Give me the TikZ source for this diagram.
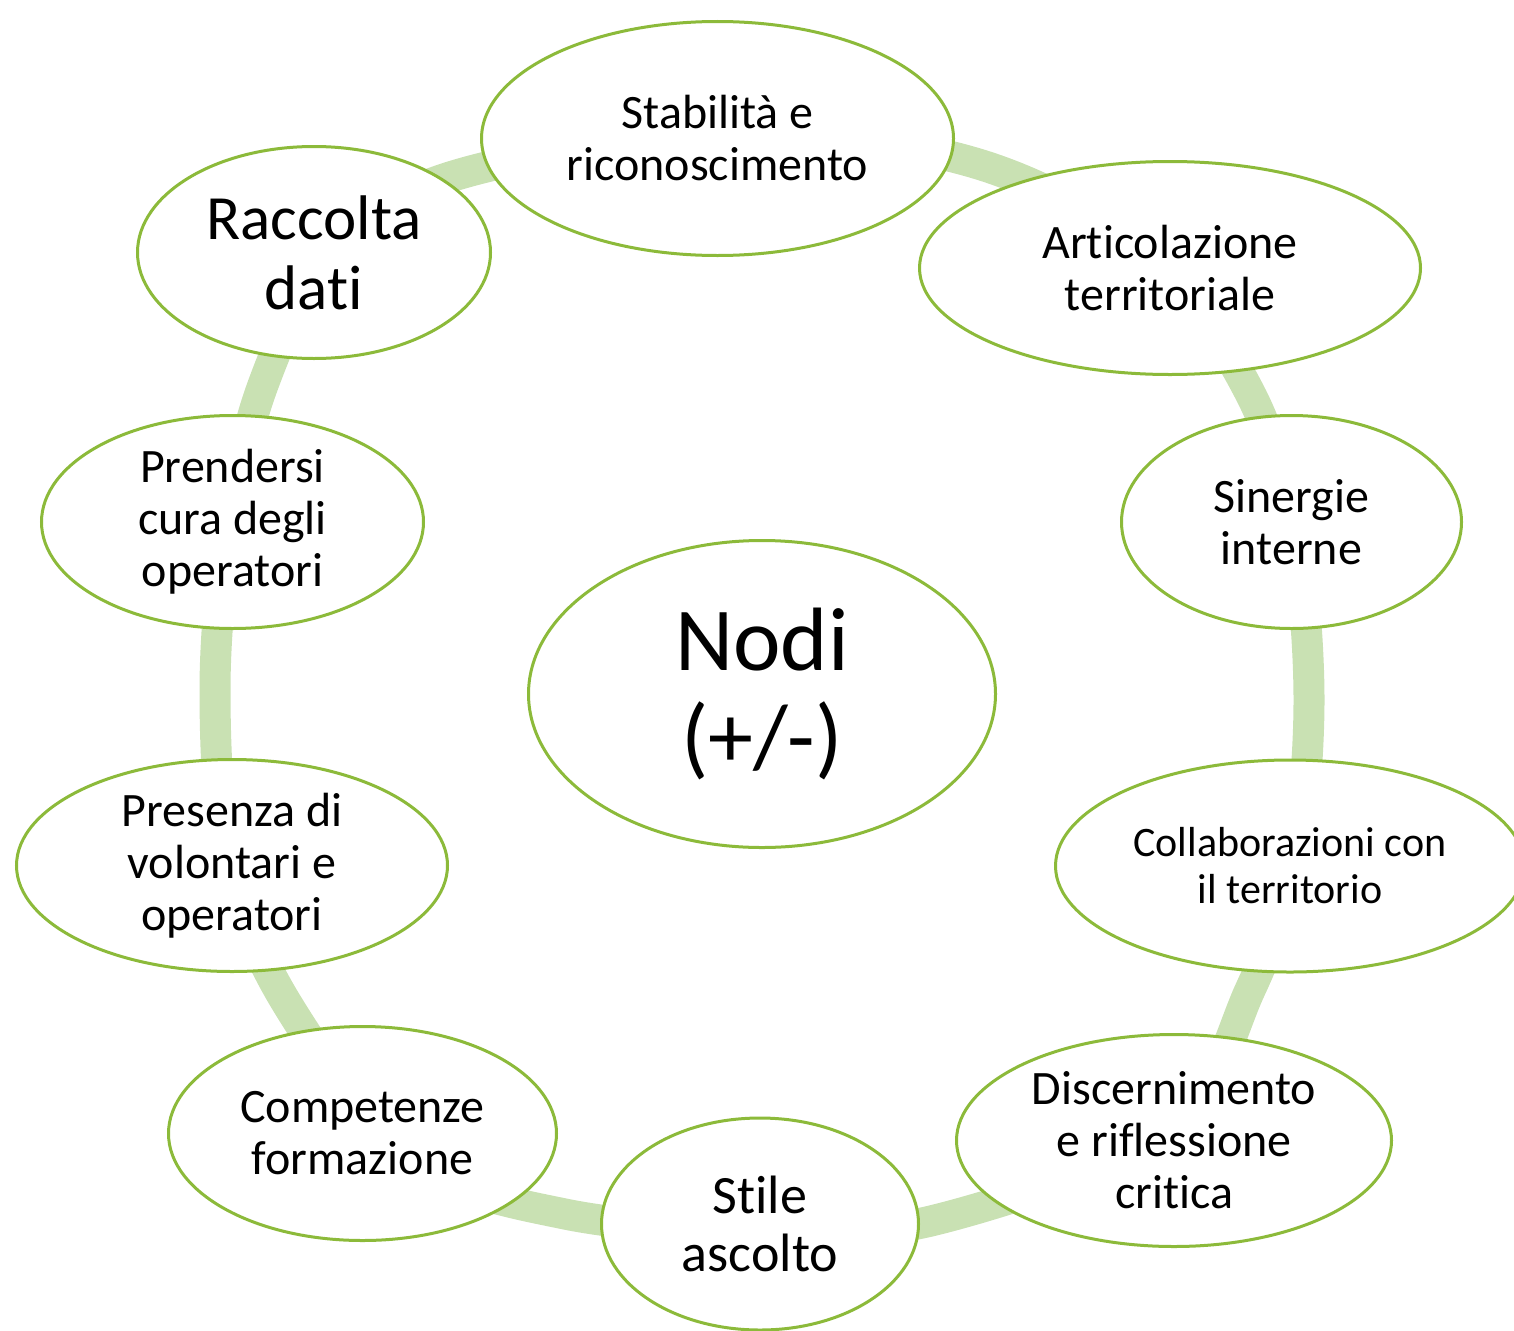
\documentclass[tikz,border=0pt]{standalone}
\usepackage{fontspec}
\setmainfont[Ligatures=CommonOff]{Carlito}
\usetikzlibrary{shapes.geometric}
\definecolor{bordergreen}{RGB}{140,186,58}
\definecolor{ringgreen}{RGB}{201,225,179}
\newcommand{\brk}{\kern0pt }
\tikzset{
  bubble/.style={ellipse, draw=bordergreen, line width=3pt, fill=white, inner sep=0pt},
  lbl/.style={align=center, text=black, inner sep=0pt},
  ring/.style={draw=ringgreen, line width=31pt},
}
\begin{document}
\begin{tikzpicture}[x=1pt,y=-1pt]
\useasboundingbox (0,0) rectangle (1514,1330);
% ring points
\coordinate (p1) at (727,130);
\coordinate (p2) at (975,163);
\coordinate (p3) at (1150,255);
\coordinate (p4) at (1250,393);
\coordinate (p5) at (1295,535);
\coordinate (p6) at (1309,700);
\coordinate (p7) at (1295,860);
\coordinate (p8) at (1250,990);
\coordinate (p9) at (1170,1130);
\coordinate (p10) at (935,1220);
\coordinate (p11) at (760,1232);
\coordinate (p12) at (565,1214);
\coordinate (p13) at (410,1160);
\coordinate (p14) at (286,1002);
\coordinate (p15) at (228,860);
\coordinate (p16) at (215,690);
\coordinate (p17) at (228,530);
\coordinate (p18) at (263,385);
\coordinate (p19) at (330,255);
\coordinate (p20) at (450,177);
\draw[ring] plot[smooth cycle, tension=0.55] coordinates {(p1) (p2) (p3) (p4) (p5) (p6) (p7) (p8) (p9) (p10) (p11) (p12) (p13) (p14) (p15) (p16) (p17) (p18) (p19) (p20)};

% ellipses
\node[bubble, minimum width=472pt, minimum height=234pt] (stab) at (717.5,138.5) {};
\node[bubble, minimum width=501pt, minimum height=213pt] (art) at (1170,268) {};
\node[bubble, minimum width=340pt, minimum height=213pt] (sin) at (1291.5,522) {};
\node[bubble, minimum width=469pt, minimum height=212pt] (col) at (1290,866) {};
\node[bubble, minimum width=435pt, minimum height=212pt] (dis) at (1174,1140.5) {};
\node[bubble, minimum width=317pt, minimum height=212pt] (sti) at (760,1224) {};
\node[bubble, minimum width=388pt, minimum height=214pt] (com) at (362.5,1133.5) {};
\node[bubble, minimum width=431pt, minimum height=212pt] (pre) at (232,865.5) {};
\node[bubble, minimum width=382pt, minimum height=213pt] (cur) at (232.5,522) {};
\node[bubble, minimum width=353pt, minimum height=212pt] (rac) at (314,252.5) {};
\node[bubble, minimum width=467pt, minimum height=307pt] (nod) at (762,694) {};

% labels
\node[lbl, font=\fontsize{48}{52}\selectfont] (stabT) at (stab) {Stabilità e\\riconoscimento};
\node[lbl, font=\fontsize{48}{52}\selectfont] (artT) at (art) {Art\brk icolazione\\territoriale};
\node[lbl, font=\fontsize{48}{52}\selectfont] (sinT) at (sin) {Sinergie\\interne};
\node[lbl, font=\fontsize{42}{47}\selectfont] (colT) at (col) {Collaborazioni con\\il territorio};
\node[lbl, font=\fontsize{48}{52}\selectfont] (disT) at (dis) {Discernimento\\e riflessione\\crit\brk ica};
\node[lbl, font=\fontsize{54}{58}\selectfont] (stiT) at (sti) {St\brk ile\\ascolto};
\node[lbl, font=\fontsize{48}{52}\selectfont] (comT) at (com) {Competenze\\formazione};
\node[lbl, font=\fontsize{48}{52}\selectfont] (preT) at (pre) {Presenza di\\volontari e\\operatori};
\node[lbl, font=\fontsize{48}{52}\selectfont] (curT) at (cur) {Prendersi\\cura degli\\operatori};
\node[lbl, font=\fontsize{63}{70}\selectfont] (racT) at (rac) {Raccolta\\dat\brk i};
\node[lbl, font=\fontsize{90}{97}\selectfont] (nodT) at (nod) {Nodi\\(+/-)};
\end{tikzpicture}
\end{document}
